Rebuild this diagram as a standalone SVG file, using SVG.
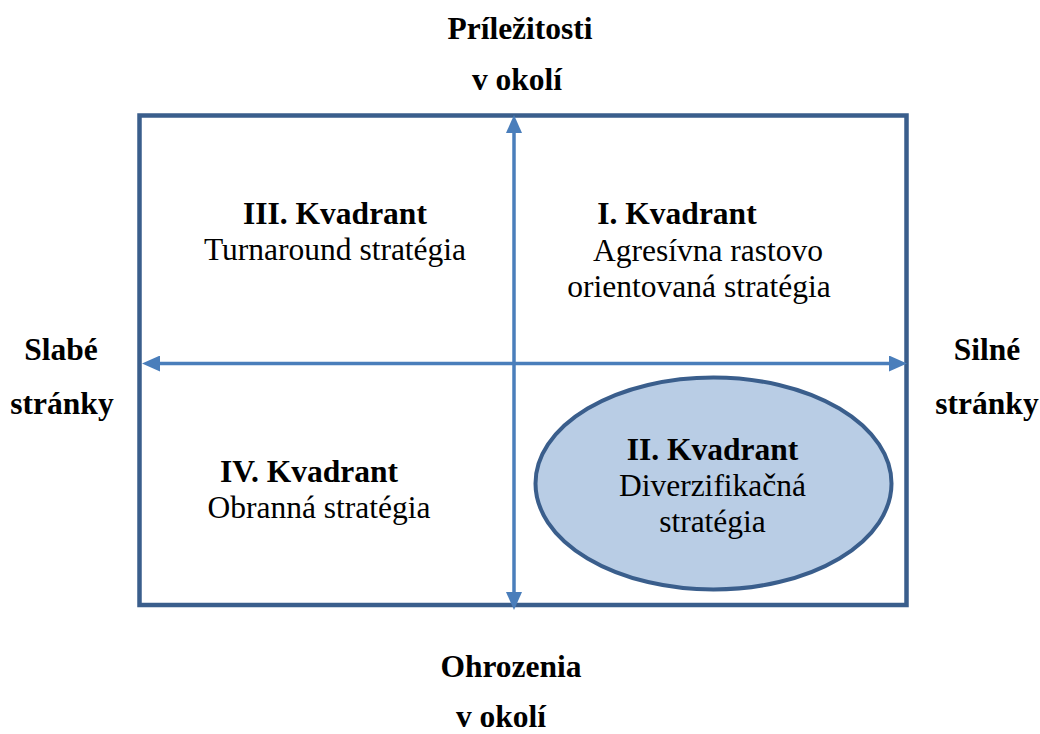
<svg xmlns="http://www.w3.org/2000/svg" width="1040" height="734" viewBox="0 0 1040 734">
<style>
text{font-family:"Liberation Serif","Times New Roman",serif;font-size:31.5px;fill:#000;text-anchor:middle}
.b{font-weight:bold}
.frame{fill:none;stroke:#3a5e8c;stroke-width:4.5}
.ax{stroke:#4a7ebb;stroke-width:3.5;fill:none}
.ell{fill:#b9cde5;stroke:#3a5e8c;stroke-width:4}
</style>
<defs>
<marker id="ah" markerUnits="userSpaceOnUse" markerWidth="18" markerHeight="16" refX="6" refY="8" orient="auto-start-reverse" viewBox="0 0 18 16">
<path d="M0,0 L18,8 L0,16 z" fill="#4a7ebb"/>
</marker>
</defs>
<rect width="1040" height="734" fill="#fff"/>
<g id="frame"><rect class="frame" x="139.5" y="115.5" width="767" height="489.5"/></g>
<g id="connectors">
<line class="ax" x1="514" y1="127" x2="514" y2="598" marker-start="url(#ah)" marker-end="url(#ah)"/>
<line class="ax" x1="154" y1="363.5" x2="895" y2="363.5" marker-start="url(#ah)" marker-end="url(#ah)"/>
</g>
<g id="top-label"><text class="b" x="520" y="39">Príležitosti</text><text class="b" x="517" y="90">v okolí</text></g>
<g id="bottom-label"><text class="b" x="511" y="677">Ohrozenia</text><text class="b" x="501" y="727">v okolí</text></g>
<g id="left-label"><text class="b" x="61" y="360">Slabé</text><text class="b" x="62" y="414">stránky</text></g>
<g id="right-label"><text class="b" x="987" y="360">Silné</text><text class="b" x="987" y="414">stránky</text></g>
<g id="q3"><text class="b" x="335" y="224">III. Kvadrant</text><text x="335" y="260">Turnaround stratégia</text></g>
<g id="q1"><text class="b" x="677" y="224">I. Kvadrant</text><text x="708" y="261">Agresívna rastovo</text><text x="699" y="297">orientovaná stratégia</text></g>
<g id="q4"><text class="b" x="309" y="482">IV. Kvadrant</text><text x="319" y="518">Obranná stratégia</text></g>
<g id="q2"><ellipse class="ell" cx="713.5" cy="483.5" rx="178" ry="106"/><text class="b" x="712.5" y="460">II. Kvadrant</text><text x="712.5" y="496">Diverzifikačná</text><text x="712.5" y="532">stratégia</text></g>
</svg>
